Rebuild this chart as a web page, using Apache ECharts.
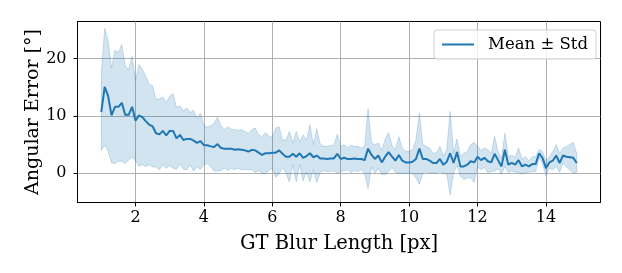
<!DOCTYPE html>
<html>
<head>
<meta charset="utf-8">
<script src="https://cdn.jsdelivr.net/npm/echarts@6/dist/echarts.min.js"></script>
<style>
  html, body { margin: 0; padding: 0; background: #fff; }
  #chart { width: 622px; height: 273px; }
</style>
</head>
<body>
<div id="chart"></div>
<script>
// blur length samples [px]
const blurLength = [
  1.0,1.1,1.2,1.3,1.4,1.5,1.6,1.7,1.8,1.9,2.0,2.1,2.2,2.3,2.4,2.5,2.6,2.7,2.8,2.9,
  3.0,3.1,3.2,3.3,3.4,3.5,3.6,3.7,3.8,3.9,4.0,4.1,4.2,4.3,4.4,4.5,4.6,4.7,4.8,4.9,
  5.0,5.1,5.2,5.3,5.4,5.5,5.6,5.7,5.8,5.9,6.0,6.1,6.2,6.3,6.4,6.5,6.6,6.7,6.8,6.9,
  7.0,7.1,7.2,7.3,7.4,7.5,7.6,7.7,7.8,7.9,8.0,8.1,8.2,8.3,8.4,8.5,8.6,8.7,8.8,8.9,
  9.0,9.1,9.2,9.3,9.4,9.5,9.6,9.7,9.8,9.9,10.0,10.1,10.2,10.3,10.4,10.5,10.6,10.7,10.8,10.9,
  11.0,11.1,11.2,11.3,11.4,11.5,11.6,11.7,11.8,11.9,12.0,12.1,12.2,12.3,12.4,12.5,12.6,12.7,12.8,12.9,
  13.0,13.1,13.2,13.3,13.4,13.5,13.6,13.7,13.8,13.9,14.0,14.1,14.2,14.3,14.4,14.5,14.6,14.7,14.8,14.9
];

// mean angular error [deg]
const meanErr = [
  10.7,15.1,13.5,10.1,11.6,11.6,12.3,10.2,10.2,11.6, 9.2,10.1, 9.8, 9.1, 8.5, 8.2, 7.0, 6.8, 7.4, 6.6,
  7.4, 7.4, 6.1, 6.7, 5.8, 6.0, 6.0, 5.7, 5.3, 5.6, 4.9, 4.9, 4.7, 4.6, 5.1, 4.4, 4.3, 4.3, 4.3, 4.1,
  4.2, 4.1, 4.0, 3.8, 4.1, 4.0, 3.6, 3.2, 3.5, 3.5, 3.6, 3.6, 4.0, 3.4, 2.9, 2.9, 3.4, 2.9, 3.5, 2.7,
  3.0, 3.5, 2.8, 3.1, 2.6, 2.6, 2.5, 2.6, 2.6, 3.4, 2.5, 2.7, 2.5, 2.5, 2.6, 2.5, 2.5, 2.3, 4.3, 3.2,
  2.5, 3.1, 1.9, 2.9, 3.7, 2.9, 2.2, 3.2, 2.2, 1.9, 1.9, 2.0, 2.5, 4.3, 2.5, 2.5, 2.2, 1.8, 1.8, 2.5,
  1.5, 2.0, 3.5, 1.8, 3.7, 1.2, 1.2, 1.5, 2.1, 1.9, 2.9, 2.3, 2.7, 2.1, 1.9, 3.4, 2.3, 1.2, 4.1, 1.5,
  1.8, 1.5, 2.3, 1.2, 1.5, 1.2, 1.6, 1.6, 3.5, 2.7, 0.9, 1.9, 2.2, 3.1, 1.8, 3.1, 2.9, 2.8, 2.7, 1.8
];

// standard deviation [deg]
const stdErr = [
  6.7,10.2, 9.6, 8.3, 9.9, 9.5,10.2, 8.5, 7.9, 8.8, 7.0, 8.9, 8.3, 7.9, 7.0, 7.1, 5.9, 6.2, 5.9, 5.7,
  6.1, 6.5, 5.4, 5.1, 5.1, 5.4, 4.6, 5.3, 4.2, 4.9, 3.4, 3.2, 3.6, 4.2, 4.7, 3.9, 3.4, 3.8, 3.4, 3.5,
  3.3, 3.5, 3.3, 3.2, 3.5, 3.9, 3.1, 3.2, 3.6, 3.0, 2.7, 4.3, 4.1, 2.4, 2.9, 4.4, 1.9, 4.4, 2.0, 4.0,
  2.8, 5.0, 2.2, 4.7, 2.5, 2.1, 2.2, 2.3, 2.2, 3.4, 2.2, 2.3, 1.9, 2.4, 2.1, 2.2, 1.9, 2.4, 7.0, 2.1,
  2.5, 2.2, 2.1, 3.1, 3.4, 1.9, 2.0, 3.2, 2.2, 1.9, 1.9, 2.1, 3.3, 6.2, 2.5, 2.2, 2.2, 1.7, 1.8, 2.2,
  1.5, 2.1, 7.3, 1.7, 2.3, 1.7, 2.3, 2.3, 2.9, 3.5, 1.8, 1.7, 1.7, 2.0, 1.6, 3.0, 1.5, 1.4, 2.9, 1.4,
  1.4, 1.3, 2.1, 1.3, 1.4, 1.0, 1.3, 1.3, 0.7, 1.1, 1.3, 1.0, 1.6, 1.9, 1.6, 1.3, 1.8, 2.2, 2.7, 1.6
];

const xTicks = [2, 4, 6, 8, 10, 12, 14];
const yTicks = [0, 10, 20];

const meanData = blurLength.map((x, i) => [x, meanErr[i]]);

const serif = 'DejaVu Serif';
const blue = '#1f77b4';

// shaded mean ± std band, drawn as one polygon in data coordinates
function renderBand(params, api) {
  const upper = blurLength.map((x, i) => api.coord([x, meanErr[i] + stdErr[i]]));
  const lower = blurLength.map((x, i) => api.coord([x, meanErr[i] - stdErr[i]])).reverse();
  return {
    type: 'polygon',
    shape: { points: upper.concat(lower) },
    style: { fill: 'rgba(31,119,180,0.2)', stroke: 'rgba(31,119,180,0.22)', lineWidth: 1 },
    silent: true
  };
}

const chart = echarts.init(document.getElementById('chart'), null, { renderer: 'canvas' });
chart.setOption({
  animation: false,
  backgroundColor: '#fff',
  textStyle: { fontFamily: serif },
  grid: {
    left: 77.5, right: 21.5, top: 21.5, bottom: 70.5,
    show: true, borderColor: '#000', borderWidth: 1, backgroundColor: 'transparent'
  },
  legend: {
    data: ['Mean ± Std'],
    right: 26, top: 30,
    icon: 'rect', itemWidth: 32, itemHeight: 2,
    backgroundColor: 'rgba(255,255,255,0.8)',
    borderColor: '#d0d0d0', borderWidth: 1, borderRadius: 3,
    padding: [6, 8, 6, 8],
    textStyle: { fontFamily: serif, fontSize: 16.5, color: '#000', padding: [0, 0, 0, 9] }
  },
  xAxis: {
    type: 'value', min: 0.305, max: 15.595,
    name: 'GT Blur Length [px]', nameLocation: 'middle', nameGap: 31,
    nameTextStyle: { fontFamily: serif, fontSize: 19.5, color: '#000' },
    axisLine: { show: true, onZero: false, lineStyle: { color: '#000', width: 1 } },
    axisTick: { show: true, length: 4, customValues: xTicks, lineStyle: { color: '#000' } },
    axisLabel: { customValues: xTicks, margin: 7, fontFamily: serif, fontSize: 16, color: '#000' },
    splitLine: { show: true, lineStyle: { color: '#b0b0b0', width: 1 } }
  },
  yAxis: {
    type: 'value', min: -5.1, max: 26.5,
    name: 'Angular Error [°]', nameLocation: 'middle', nameGap: 35, nameRotate: 90,
    nameMoveOverlap: false,
    nameTextStyle: { fontFamily: serif, fontSize: 19, color: '#000' },
    axisLine: { show: true, onZero: false, lineStyle: { color: '#000', width: 1 } },
    axisTick: { show: true, length: 4, customValues: yTicks, lineStyle: { color: '#000' } },
    axisLabel: { customValues: yTicks, margin: 11, fontFamily: serif, fontSize: 16, color: '#000' },
    splitLine: { show: true, lineStyle: { color: '#b0b0b0', width: 1 } }
  },
  series: [
    {
      name: 'band', type: 'custom', data: [[0, 0]],
      renderItem: renderBand, silent: true, z: 1
    },
    {
      name: 'Mean ± Std', type: 'line', data: meanData,
      symbol: 'none', z: 5,
      itemStyle: { color: blue },
      lineStyle: { color: blue, width: 2 }
    }
  ]
});
</script>
</body>
</html>
